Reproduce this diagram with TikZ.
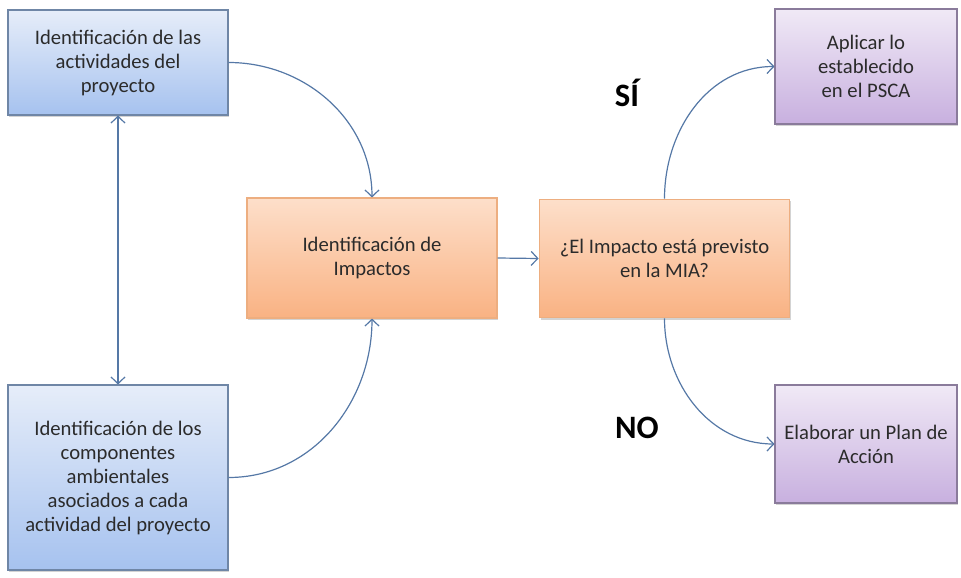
\documentclass[tikz,border=0pt]{standalone}
\usepackage{fontspec}
\setmainfont{Carlito}
\usetikzlibrary{arrows.meta,shadows}
\definecolor{bluetop}{HTML}{E6EDF9}
\definecolor{bluebot}{HTML}{A6C2EF}
\definecolor{blueline}{HTML}{6F86A6}
\definecolor{orgtop}{HTML}{FDDFCA}
\definecolor{orgbot}{HTML}{F9B283}
\definecolor{orgline}{HTML}{EDAE80}
\definecolor{purtop}{HTML}{F0E9F6}
\definecolor{purbot}{HTML}{C8B0DF}
\definecolor{purline}{HTML}{8A7B9B}
\definecolor{arrowc}{HTML}{5578A6}
\definecolor{txt}{HTML}{2B2B2B}
\tikzset{
  boxbase/.style={rectangle, align=center, inner sep=2pt, text=txt,
    font=\fontsize{15.5}{18}\selectfont, line width=0.8pt,
    drop shadow={shadow xshift=1pt, shadow yshift=-1.5pt, opacity=0.35}},
  bluebox/.style={boxbase, draw=blueline, top color=bluetop, bottom color=bluebot},
  orgbox/.style={boxbase, draw=orgline, top color=orgtop, bottom color=orgbot},
  purbox/.style={boxbase, draw=purline, top color=purtop, bottom color=purbot},
  conn/.style={draw=arrowc, line width=0.9pt, -{Straight Barb[length=5pt,width=10.5pt]}},
  answer/.style={font=\bfseries\fontsize{24.5}{26}\selectfont, text=black}
}
\begin{document}
\begin{tikzpicture}[x=0.75pt,y=-0.75pt]
\useasboundingbox (0,0) rectangle (961,578);
\node[bluebox, minimum width=165pt, minimum height=78.75pt] (A) at (118,62.5)
  {Identificación de las\\actividades del\\proyecto};
\node[bluebox, minimum width=165pt, minimum height=138.75pt] (B) at (118,477.5)
  {Identificación de los\\componentes\\ambientales\\asociados a cada\\actividad del proyecto};
\node[orgbox, minimum width=187.5pt, minimum height=90pt] (C) at (372,258)
  {Identificación de\\Impactos};
\node[orgbox, minimum width=188pt, minimum height=89pt] (D) at (664.5,258.5)
  {¿El Impacto está previsto\\en la MIA?};
\node[purbox, minimum width=136.5pt, minimum height=86.25pt] (E) at (866,66.5)
  {Aplicar lo\\establecido\\en el PSCA};
\node[purbox, minimum width=136.5pt, minimum height=88.5pt] (F) at (866,444)
  {Elaborar un Plan de\\Acción};
\node[answer] (si) at (627,93) {SÍ};
\node[answer] (no) at (637,428) {NO};
\draw[conn] (A.east) to[out=0,in=90] (C.north);
\draw[conn] (B.east) to[out=0,in=-90] (C.south);
\draw[conn, {Straight Barb[length=5pt,width=10.5pt]}-{Straight Barb[length=5pt,width=10.5pt]}] (A.south) -- (B.north);
\draw[conn] (C.east) -- (D.west);
\draw[conn] (D.north) to[out=90,in=180] (E.west);
\draw[conn] (D.south) to[out=-90,in=180] (F.west);
\end{tikzpicture}
\end{document}
